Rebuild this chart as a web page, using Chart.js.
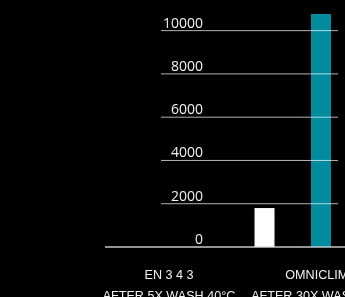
<!DOCTYPE html>
<html>
<head>
<meta charset="utf-8">
<script src="https://cdn.jsdelivr.net/npm/chart.js@4/dist/chart.umd.min.js"></script>
<style>
    html, body { margin: 0; padding: 0; background: #000; overflow: hidden; }
    #frame { width: 345px; height: 297px; overflow: hidden; }
    #wrap { width: 420px; height: 340px; }
</style>
</head>
<body>
<div id="frame"><div id="wrap"><canvas id="washChart"></canvas></div></div>
<script>
// Data
const categories = ['EN 3 4 3', 'OMNICLIMA'];
const washLabels = ['AFTER 5X WASH 40°C', 'AFTER 30X WASH 40°C'];
const whiteValues = [null, 1800];
const tealValues = [null, 10770];
const thirdValues = [null, null]; // lies outside the visible crop
const yTicks = [0, 2000, 4000, 6000, 8000, 10000];

// Colours
const colors = {
    white: '#ffffff',
    teal: '#008b9e',
    grid: 'rgba(255, 255, 255, 0.7)',
    base: 'rgba(220, 220, 220, 0.9)',
    text: '#f2f2f2'
};

// Grid lines and value labels sit inside the plot, baseline runs further left
const gridPlugin = {
    id: 'washGrid',
    afterDatasetsDraw(chart, args, opts) {
        const { ctx } = chart;
        const y = chart.scales.y;
        ctx.save();
        y.ticks.forEach(t => {
            const py = y.getPixelForValue(t.value);
            ctx.beginPath();
            if (t.value === 0) {
                ctx.strokeStyle = colors.base;
                ctx.lineWidth = 1.5;
                ctx.moveTo(opts.baseFrom, py);
                ctx.lineTo(chart.width, py);
            } else {
                ctx.strokeStyle = colors.grid;
                ctx.lineWidth = 1;
                ctx.moveTo(opts.gridFrom, py);
                ctx.lineTo(opts.gridTo, py);
            }
            ctx.stroke();

            ctx.fillStyle = colors.text;
            ctx.font = '14px "Open Sans"';
            ctx.textAlign = 'right';
            ctx.textBaseline = 'middle';
            ctx.fillText(String(t.value), opts.labelRight, py - opts.labelLift);
        });
        ctx.restore();
    }
};

function renderChart() {
    const ctx = document.getElementById('washChart').getContext('2d');

    new Chart(ctx, {
        type: 'bar',
        data: {
            labels: categories.map((name, i) => [name, washLabels[i]]),
            datasets: [
                { data: whiteValues, backgroundColor: colors.white },
                { data: tealValues, backgroundColor: colors.teal },
                { data: thirdValues, backgroundColor: colors.white }
            ]
        },
        options: {
            responsive: true,
            maintainAspectRatio: false,
            animation: false,
            categoryPercentage: 1.115,
            barPercentage: 1,
            maxBarThickness: 20,
            layout: { padding: { left: 93, right: 23, top: 9, bottom: 14.6 } },
            plugins: {
                legend: { display: false },
                tooltip: { enabled: false },
                washGrid: { gridFrom: 161, gridTo: 338, baseFrom: 105, labelRight: 203, labelLift: 7 }
            },
            scales: {
                x: {
                    grid: { display: false, drawTicks: false },
                    border: { display: false },
                    ticks: {
                        color: colors.text,
                        font: { family: 'Liberation Sans', size: 12.6, lineHeight: '20.4px' },
                        padding: 18.8,
                        maxRotation: 0,
                        autoSkip: false
                    }
                },
                y: {
                    display: false,
                    min: 0,
                    max: 11000,
                    afterBuildTicks: scale => {
                        scale.ticks = yTicks.map(v => ({ value: v }));
                    }
                }
            }
        },
        plugins: [gridPlugin]
    });
}

document.addEventListener('DOMContentLoaded', renderChart);
</script>
</body>
</html>
